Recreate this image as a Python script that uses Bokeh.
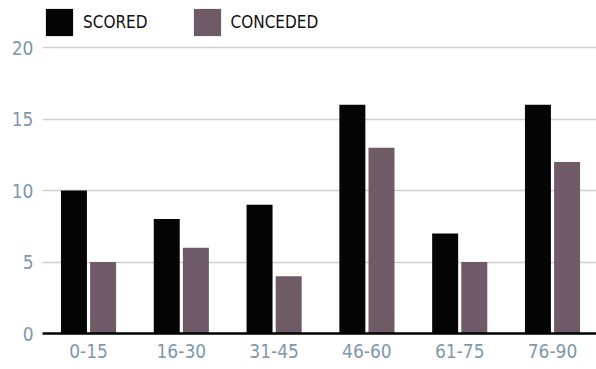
from bokeh.plotting import figure
from bokeh.models import Range1d, FixedTicker, Legend, LegendItem, ColumnDataSource
from bokeh.embed import file_html
from bokeh.resources import INLINE

categories = ["0-15", "16-30", "31-45", "46-60", "61-75", "76-90"]
scored = [10, 8, 9, 16, 7, 16]
conceded = [5, 6, 4, 13, 5, 12]
y_ticks = [0, 5, 10, 15, 20]

FONT = "DejaVu Sans Condensed"
LABEL_COLOR = "#7f97ad"
SCORED_COLOR = "#050505"
CONCEDED_COLOR = "#6f5b68"

idx = list(range(len(categories)))
src = ColumnDataSource(dict(
    xs=[i - 0.157 for i in idx],
    xc=[i + 0.157 for i in idx],
    scored=scored,
    conceded=conceded,
))

p = figure(width=596, height=369, output_backend="svg", toolbar_location=None,
           x_range=Range1d(-0.496, 5.474), y_range=Range1d(0, 23.29),
           min_border_left=42, min_border_right=0, min_border_top=0,
           min_border_bottom=36)
p.outline_line_color = None
p.background_fill_color = "white"
p.border_fill_color = "white"

r1 = p.vbar(x="xs", top="scored", width=0.28, source=src,
            fill_color=SCORED_COLOR, line_color=None)
r2 = p.vbar(x="xc", top="conceded", width=0.28, source=src,
            fill_color=CONCEDED_COLOR, line_color=None)

p.xgrid.grid_line_color = None
p.ygrid.grid_line_color = "#cfcfcf"
p.ygrid.grid_line_width = 1.5
p.ygrid.ticker = FixedTicker(ticks=y_ticks)

p.xaxis.ticker = FixedTicker(ticks=idx)
p.xaxis.major_label_overrides = {i: c for i, c in zip(idx, categories)}
p.xaxis.axis_line_color = "#000000"
p.xaxis.axis_line_width = 2.5
p.xaxis.major_tick_line_color = None
p.xaxis.minor_tick_line_color = None
p.xaxis.major_tick_out = 0
p.xaxis.major_label_text_font = FONT
p.xaxis.major_label_text_font_size = "19px"
p.xaxis.major_label_text_color = LABEL_COLOR
p.xaxis.major_label_standoff = 10

p.yaxis.ticker = FixedTicker(ticks=y_ticks)
p.yaxis.axis_line_color = None
p.yaxis.major_tick_line_color = None
p.yaxis.minor_tick_line_color = None
p.yaxis.major_tick_out = 0
p.yaxis.major_label_text_font = FONT
p.yaxis.major_label_text_font_size = "19px"
p.yaxis.major_label_text_color = LABEL_COLOR
p.yaxis.major_label_standoff = 9

legend = Legend(items=[LegendItem(label="SCORED", renderers=[r1]),
                       LegendItem(label="CONCEDED", renderers=[r2])],
                location=(0, 294), orientation="horizontal",
                glyph_width=34, glyph_height=34, label_standoff=7,
                spacing=42, padding=0, margin=0,
                border_line_color=None, background_fill_alpha=0,
                label_text_font=FONT, label_text_font_size="17px",
                label_text_color="#111111")
p.add_layout(legend)

open("out.html", "w").write(file_html(p, INLINE))
